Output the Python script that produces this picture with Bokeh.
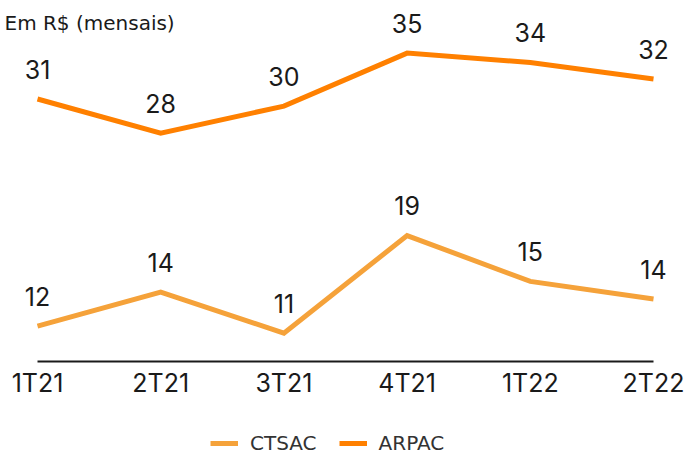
from bokeh.plotting import figure
from bokeh.models import Range1d, Legend, LegendItem, Label
from bokeh.core.properties import value
from bokeh.embed import file_html
from bokeh.resources import INLINE

quarters = ["1T21", "2T21", "3T21", "4T21", "1T22", "2T22"]
ctsac = [11.5, 14.4, 10.9, 19.2, 15.3, 13.8]
ctsac_labels = ["12", "14", "11", "19", "15", "14"]
arpac = [30.8, 27.9, 30.2, 34.7, 33.9, 32.5]
arpac_labels = ["31", "28", "30", "35", "34", "32"]
axis_base = 8.5

CT_COLOR = "#F5A23A"
AR_COLOR = "#FF8000"
TXT = "#1a1a1a"
FONT = "Inter"
FONT2 = "DejaVu Sans"

x = list(range(len(quarters)))

p = figure(width=688, height=455, output_backend="svg", toolbar_location=None,
           x_range=Range1d(-0.3003, 5.284), y_range=Range1d(0.51, 39.17),
           x_axis_location=None, y_axis_location=None, min_border=0)
p.grid.grid_line_color = None
p.outline_line_color = None
p.background_fill_color = "white"
p.border_fill_color = "white"

# baseline axis line
p.segment(x0=[x[0]], y0=[axis_base], x1=[x[-1]], y1=[axis_base],
          line_color=TXT, line_width=2)

r_ct = p.line(x, ctsac, line_color=CT_COLOR, line_width=5, line_join="miter")
r_ar = p.line(x, arpac, line_color=AR_COLOR, line_width=5, line_join="miter")

p.text(x, ctsac, text=ctsac_labels, text_align="center", text_baseline="alphabetic",
       y_offset=-30, text_font=value(FONT), text_font_size="25px", text_color=TXT)
p.text(x, arpac, text=arpac_labels, text_align="center", text_baseline="alphabetic",
       y_offset=-30, text_font=value(FONT), text_font_size="25px", text_color=TXT)

# category labels
p.text(x, [axis_base] * len(x), text=quarters, text_align="center",
       text_baseline="alphabetic", y_offset=22, text_font=value(FONT),
       text_font_size="25px", text_color=TXT)

cap = Label(x=4, y=433, x_units="screen", y_units="screen", text="Em  R$ (mensais)",
            text_font=FONT2, text_font_size="20px", text_color=TXT,
            text_baseline="alphabetic")
p.add_layout(cap)

legend = Legend(items=[LegendItem(label="CTSAC", renderers=[r_ct]),
                       LegendItem(label="ARPAC", renderers=[r_ar])],
                orientation="horizontal", location=(210, 0), padding=0, margin=0,
                border_line_color=None, background_fill_alpha=0,
                glyph_width=28, glyph_height=16, label_height=16,
                label_standoff=12, spacing=22, label_text_font=FONT2,
                label_text_font_size="20px", label_text_color="#333333")
p.add_layout(legend)

open("out.html", "w").write(file_html(p, INLINE))
